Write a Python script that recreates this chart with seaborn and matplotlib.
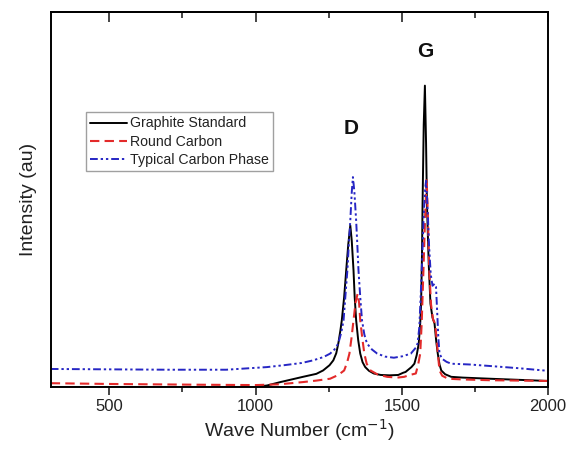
import matplotlib
matplotlib.use("Agg")
import matplotlib.pyplot as plt
import seaborn as sns
import pandas as pd
from matplotlib.ticker import MultipleLocator

sns.set_theme(style="white")
plt.rcParams['font.family'] = ['Liberation Sans', 'DejaVu Sans']

# ---- data ----
graphite_x = [300, 1000, 1040, 1085, 1162, 1208, 1231, 1253, 1266, 1276, 1283, 1290, 1295, 1303, 1310,
              1317, 1324, 1329, 1335, 1339, 1344, 1351, 1358, 1366, 1375, 1388, 1404, 1428, 1458, 1488,
              1505, 1513, 1519, 1533, 1543, 1551, 1558, 1563, 1566, 1569, 1571, 1575, 1579, 1583, 1586,
              1592, 1598, 1605, 1612, 1618, 1623, 1629, 1635, 1648, 1669, 1708, 1800, 1900, 2000]
graphite_y = [0.0, 0.0, 0.004, 0.013, 0.027, 0.035, 0.044, 0.058, 0.071, 0.09, 0.116, 0.15, 0.178, 0.24, 0.311,
              0.38, 0.431, 0.39, 0.311, 0.24, 0.178, 0.125, 0.089, 0.066, 0.053, 0.043, 0.036, 0.032, 0.031, 0.032,
              0.038, 0.04, 0.044, 0.053, 0.062, 0.085, 0.116, 0.17, 0.222, 0.35, 0.489, 0.70, 0.804, 0.65, 0.489,
              0.33, 0.222, 0.185, 0.169, 0.12, 0.089, 0.06, 0.044, 0.034, 0.027, 0.025, 0.022, 0.019, 0.016]

round_x = [300, 500, 800, 1000, 1080, 1162, 1208, 1255, 1283, 1303, 1313, 1321, 1328, 1335, 1342,
           1349, 1354, 1358, 1365, 1372, 1380, 1393, 1418, 1450, 1485, 1508, 1528, 1548, 1556, 1563,
           1568, 1574, 1580, 1585, 1589, 1594, 1600, 1607, 1614, 1620, 1625, 1629, 1638, 1658, 1708,
           1800, 1900, 2000]
round_y = [0.01, 0.008, 0.006, 0.005, 0.007, 0.013, 0.017, 0.022, 0.032, 0.044, 0.065, 0.089, 0.13, 0.178, 0.225,
           0.249, 0.225, 0.178, 0.13, 0.089, 0.062, 0.044, 0.033, 0.027, 0.025, 0.027, 0.032, 0.036, 0.06, 0.089,
           0.17, 0.311, 0.46, 0.556, 0.46, 0.311, 0.22, 0.18, 0.169, 0.12, 0.075, 0.044, 0.03, 0.022, 0.02,
           0.018, 0.017, 0.016]

typical_x = [300, 500, 700, 900, 1039, 1097, 1158, 1197, 1233, 1255, 1270, 1283, 1293, 1301, 1308,
             1314, 1319, 1324, 1329, 1333, 1338, 1344, 1348, 1352, 1358, 1364, 1372, 1381, 1398, 1416,
             1443, 1473, 1503, 1531, 1548, 1554, 1560, 1565, 1570, 1575, 1580, 1583, 1588, 1593, 1599,
             1605, 1612, 1617, 1621, 1625, 1629, 1638, 1653, 1669, 1731, 1800, 1900, 2000]
typical_y = [0.048, 0.047, 0.046, 0.046, 0.053, 0.058, 0.064, 0.071, 0.08, 0.089, 0.10, 0.116, 0.145, 0.178, 0.25,
             0.311, 0.38, 0.444, 0.52, 0.56, 0.52, 0.444, 0.38, 0.311, 0.24, 0.178, 0.14, 0.116, 0.10, 0.089,
             0.081, 0.078, 0.082, 0.089, 0.105, 0.116, 0.16, 0.25, 0.35, 0.46, 0.53, 0.55, 0.48, 0.38, 0.30,
             0.27, 0.275, 0.267, 0.20, 0.13, 0.089, 0.075, 0.067, 0.062, 0.06, 0.056, 0.05, 0.043]

series_names = ["Graphite Standard", "Round Carbon", "Typical Carbon Phase"]
peak_labels = ["D", "G"]
peak_label_x = [1328, 1580]
peak_label_y = [0.69, 0.895]
x_ticks = [500, 1000, 1500, 2000]

fig = plt.figure(figsize=(5.68, 4.51), dpi=100)
ax = fig.add_axes([0.0893, 0.142, 0.8756, 0.831])

styles = [
    dict(color="black", linestyle="-", linewidth=1.4),
    dict(color="#e32a2a", linestyle=(0, (4.5, 2.5)), linewidth=1.5),
    dict(color="#2626c4", linestyle=(0, (4, 1.5, 1.2, 1.5, 1.2, 1.5)), linewidth=1.4),
]
data = [(graphite_x, graphite_y), (round_x, round_y), (typical_x, typical_y)]
for name, (xs, ys), st in zip(series_names, data, styles):
    df = pd.DataFrame({"x": xs, "y": ys})
    sns.lineplot(data=df, x="x", y="y", ax=ax, sort=False, label=name, **st)

ax.set_xlim(300, 2000)
ax.set_ylim(0, 1)
ax.set_xticks(x_ticks)
ax.xaxis.set_minor_locator(MultipleLocator(250))
ax.set_yticks([])
ax.tick_params(axis="x", which="major", direction="out", length=6, width=1.2,
               labelsize=12, labelcolor="#222222", bottom=True, top=False, pad=3)
ax.tick_params(axis="x", which="minor", direction="out", length=3.5, width=1.2,
               bottom=True, top=False)
for sp in ax.spines.values():
    sp.set_color("black")
    sp.set_linewidth(1.4)

# top mirrored ticks pointing inward
secax = ax.secondary_xaxis("top")
secax.set_xticks(x_ticks)
secax.xaxis.set_minor_locator(MultipleLocator(250))
secax.tick_params(axis="x", which="major", direction="in", length=7, width=1.2, labeltop=False)
secax.tick_params(axis="x", which="minor", direction="in", length=4, width=1.2)
secax.spines["top"].set_linewidth(1.4)

ax.set_xlabel("Wave Number (cm$^{-1}$)", fontsize=14, color="#222222", labelpad=2)
ax.set_ylabel("Intensity (au)", fontsize=14, color="#222222", labelpad=10)

for lab, lx, ly in zip(peak_labels, peak_label_x, peak_label_y):
    ax.text(lx, ly, lab, fontsize=15, fontweight="bold", ha="center", va="center", color="#111111")

leg = ax.legend(loc="upper left", bbox_to_anchor=(0.071, 0.733), borderaxespad=0,
                fontsize=10.2, frameon=True, fancybox=False, edgecolor="#888888",
                handlelength=2.6, handletextpad=0.2, labelspacing=0.3, borderpad=0.3)
leg.get_frame().set_linewidth(1.0)
for t in leg.get_texts():
    t.set_color("#222222")

fig.savefig("out.png", dpi=100)
